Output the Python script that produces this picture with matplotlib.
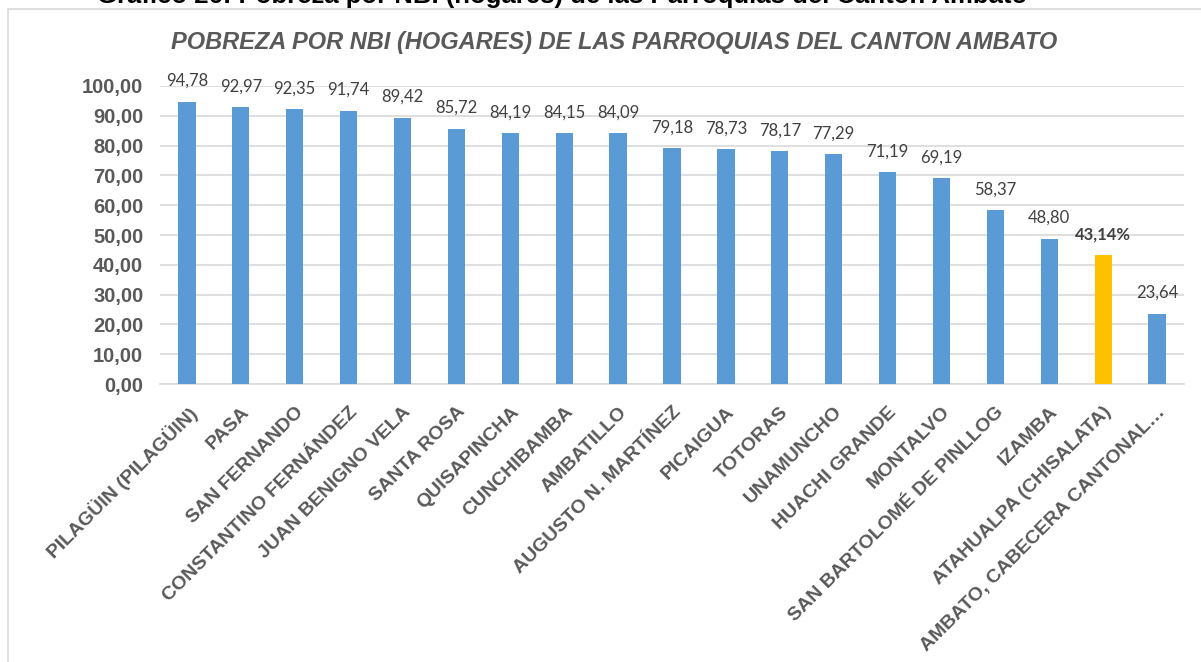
import matplotlib.pyplot as plt
from matplotlib.patches import Rectangle
from matplotlib.transforms import ScaledTranslation

parroquias = ["PILAGÜIN (PILAGÜIN)", "PASA", "SAN FERNANDO", "CONSTANTINO FERNÁNDEZ",
              "JUAN BENIGNO VELA", "SANTA ROSA", "QUISAPINCHA", "CUNCHIBAMBA", "AMBATILLO",
              "AUGUSTO N. MARTÍNEZ", "PICAIGUA", "TOTORAS", "UNAMUNCHO", "HUACHI GRANDE",
              "MONTALVO", "SAN BARTOLOMÉ DE PINLLOG", "IZAMBA", "ATAHUALPA (CHISALATA)",
              "AMBATO, CABECERA CANTONAL…"]
pobreza = [94.78, 92.97, 92.35, 91.74, 89.42, 85.72, 84.19, 84.15, 84.09,
           79.18, 78.73, 78.17, 77.29, 71.19, 69.19, 58.37, 48.80, 43.14, 23.64]
etiquetas = ["94,78", "92,97", "92,35", "91,74", "89,42", "85,72", "84,19", "84,15", "84,09",
             "79,18", "78,73", "78,17", "77,29", "71,19", "69,19", "58,37", "48,80", "43,14%", "23,64"]
destacado = "ATAHUALPA (CHISALATA)"

azul = "#5B9BD5"
oro = "#FFC000"
gris = "#595959"

fig = plt.figure(figsize=(12.01, 6.62), dpi=100)
ax = fig.add_axes([160 / 1201, 1 - 384 / 662, (1184 - 160) / 1201, (384 - 86) / 662])

# marco del grafico
fig.patches.append(Rectangle((8 / 1201, -0.1), 1.2, 1 - 9 / 662 + 0.1, transform=fig.transFigure,
                             fill=False, edgecolor="#D9D9D9", linewidth=1.2))

colores = [oro if p == destacado else azul for p in parroquias]
x = range(len(parroquias))
ax.bar(x, pobreza, width=0.32, color=colores, zorder=3)

for i, (v, t) in enumerate(zip(pobreza, etiquetas)):
    bold = t.endswith("%")
    ax.annotate(t, (i, v), xytext=(0, 9), textcoords="offset points", ha="center", va="bottom",
                fontsize=12, color="#404040", fontweight="bold" if bold else "normal",
                family="Lato")

ax.set_xlim(-0.5, len(parroquias) - 0.5)
ax.set_ylim(0, 100)
ax.set_yticks(range(0, 101, 10))
ax.set_yticklabels([f"{v},00" for v in range(0, 101, 10)], fontsize=14.5, fontweight="bold",
                   color=gris, family="Liberation Sans")
ax.set_xticks(list(x))
ax.set_xticklabels(parroquias, rotation=45, ha="right", va="top", rotation_mode="anchor",
                   fontsize=14, fontweight="bold", color=gris, family="Liberation Sans")
for lbl in ax.get_xticklabels():
    lbl.set_transform(lbl.get_transform() + ScaledTranslation(-0.03, 0.02, fig.dpi_scale_trans))
ax.tick_params(axis="both", length=0)
ax.tick_params(axis="y", pad=12)
ax.tick_params(axis="x", pad=14)

ax.grid(axis="y", color="#D9D9D9", linewidth=1.2, zorder=0)
for s in ["top", "right", "left"]:
    ax.spines[s].set_visible(False)
ax.spines["bottom"].set_color("#D9D9D9")
ax.spines["bottom"].set_linewidth(1.2)

fig.text(614 / 1201, 1 - 43 / 662, "POBREZA POR NBI (HOGARES) DE LAS PARROQUIAS DEL CANTON AMBATO",
         ha="center", va="center", fontsize=17, fontweight="bold", fontstyle="italic",
         color=gris, family="Liberation Sans")
fig.text(562 / 1201, 1 - 3 / 662, "Gráfico 26: Pobreza por NBI (hogares) de las Parroquias del Cantón Ambato",
         ha="center", va="baseline", fontsize=18.5, fontweight="bold", color="black",
         family="Liberation Sans")

fig.savefig("out.png", dpi=100)
